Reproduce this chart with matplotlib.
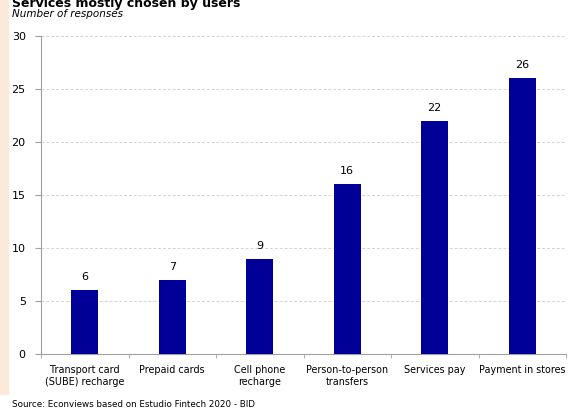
import matplotlib.pyplot as plt
import matplotlib.patches as mpatches
import numpy as np

categories = ["Transport card\n(SUBE) recharge", "Prepaid cards", "Cell phone\nrecharge",
              "Person-to-person\ntransfers", "Services pay", "Payment in stores"]
values = [6, 7, 9, 16, 22, 26]
yticks = [0, 5, 10, 15, 20, 25, 30]

plt.rcParams['font.family'] = ['DejaVu Sans']
fig = plt.figure(figsize=(5.7, 4.11), dpi=100)
ax = fig.add_axes([41/570, 1 - 354/411, 525/570, 318/411])

# peach stripe on the left edge
fig.patches.append(mpatches.Rectangle((0, 1 - 394/411), 8/570, 394/411,
                                      transform=fig.transFigure, color='#fde9da', zorder=0))

x = np.arange(len(values))
ax.bar(x, values, width=0.31, color='#000099', zorder=3)
for xi, v in zip(x, values):
    ax.text(xi, v + 0.75, str(v), ha='center', va='bottom', fontsize=8, color='black')

ax.set_xlim(-0.5, len(values) - 0.5)
ax.set_ylim(0, 30)
ax.set_yticks(yticks)
ax.set_xticks(x)
ax.set_xticklabels(categories, fontsize=6.9)
ax.tick_params(axis='x', length=0, pad=8)
ax.set_xticks(np.arange(len(values) + 1) - 0.5, minor=True)
ax.tick_params(axis='x', which='minor', length=3, color='#a0a0a0')
ax.tick_params(axis='y', labelsize=8, length=4, color='#a0a0a0', pad=7)
ax.grid(axis='y', linestyle=(0, (3, 2)), color='#d3d3d3', linewidth=0.7, zorder=0)

for s in ['top', 'right']:
    ax.spines[s].set_visible(False)
ax.spines['left'].set_color('#a0a0a0')
ax.spines['bottom'].set_color('#a0a0a0')

fig.text(12/570, 1 - 3/411, "Services mostly chosen by users", fontsize=9, fontweight='bold',
         ha='left', va='center')
fig.text(12/570, 1 - 14/411, "Number of responses", fontsize=7.5, style='italic',
         ha='left', va='center')
fig.text(12/570, 1 - 404/411, "Source: Econviews based on Estudio Fintech 2020 - BID",
         fontsize=6.3, ha='left', va='center')

fig.savefig('out.png', dpi=100)
